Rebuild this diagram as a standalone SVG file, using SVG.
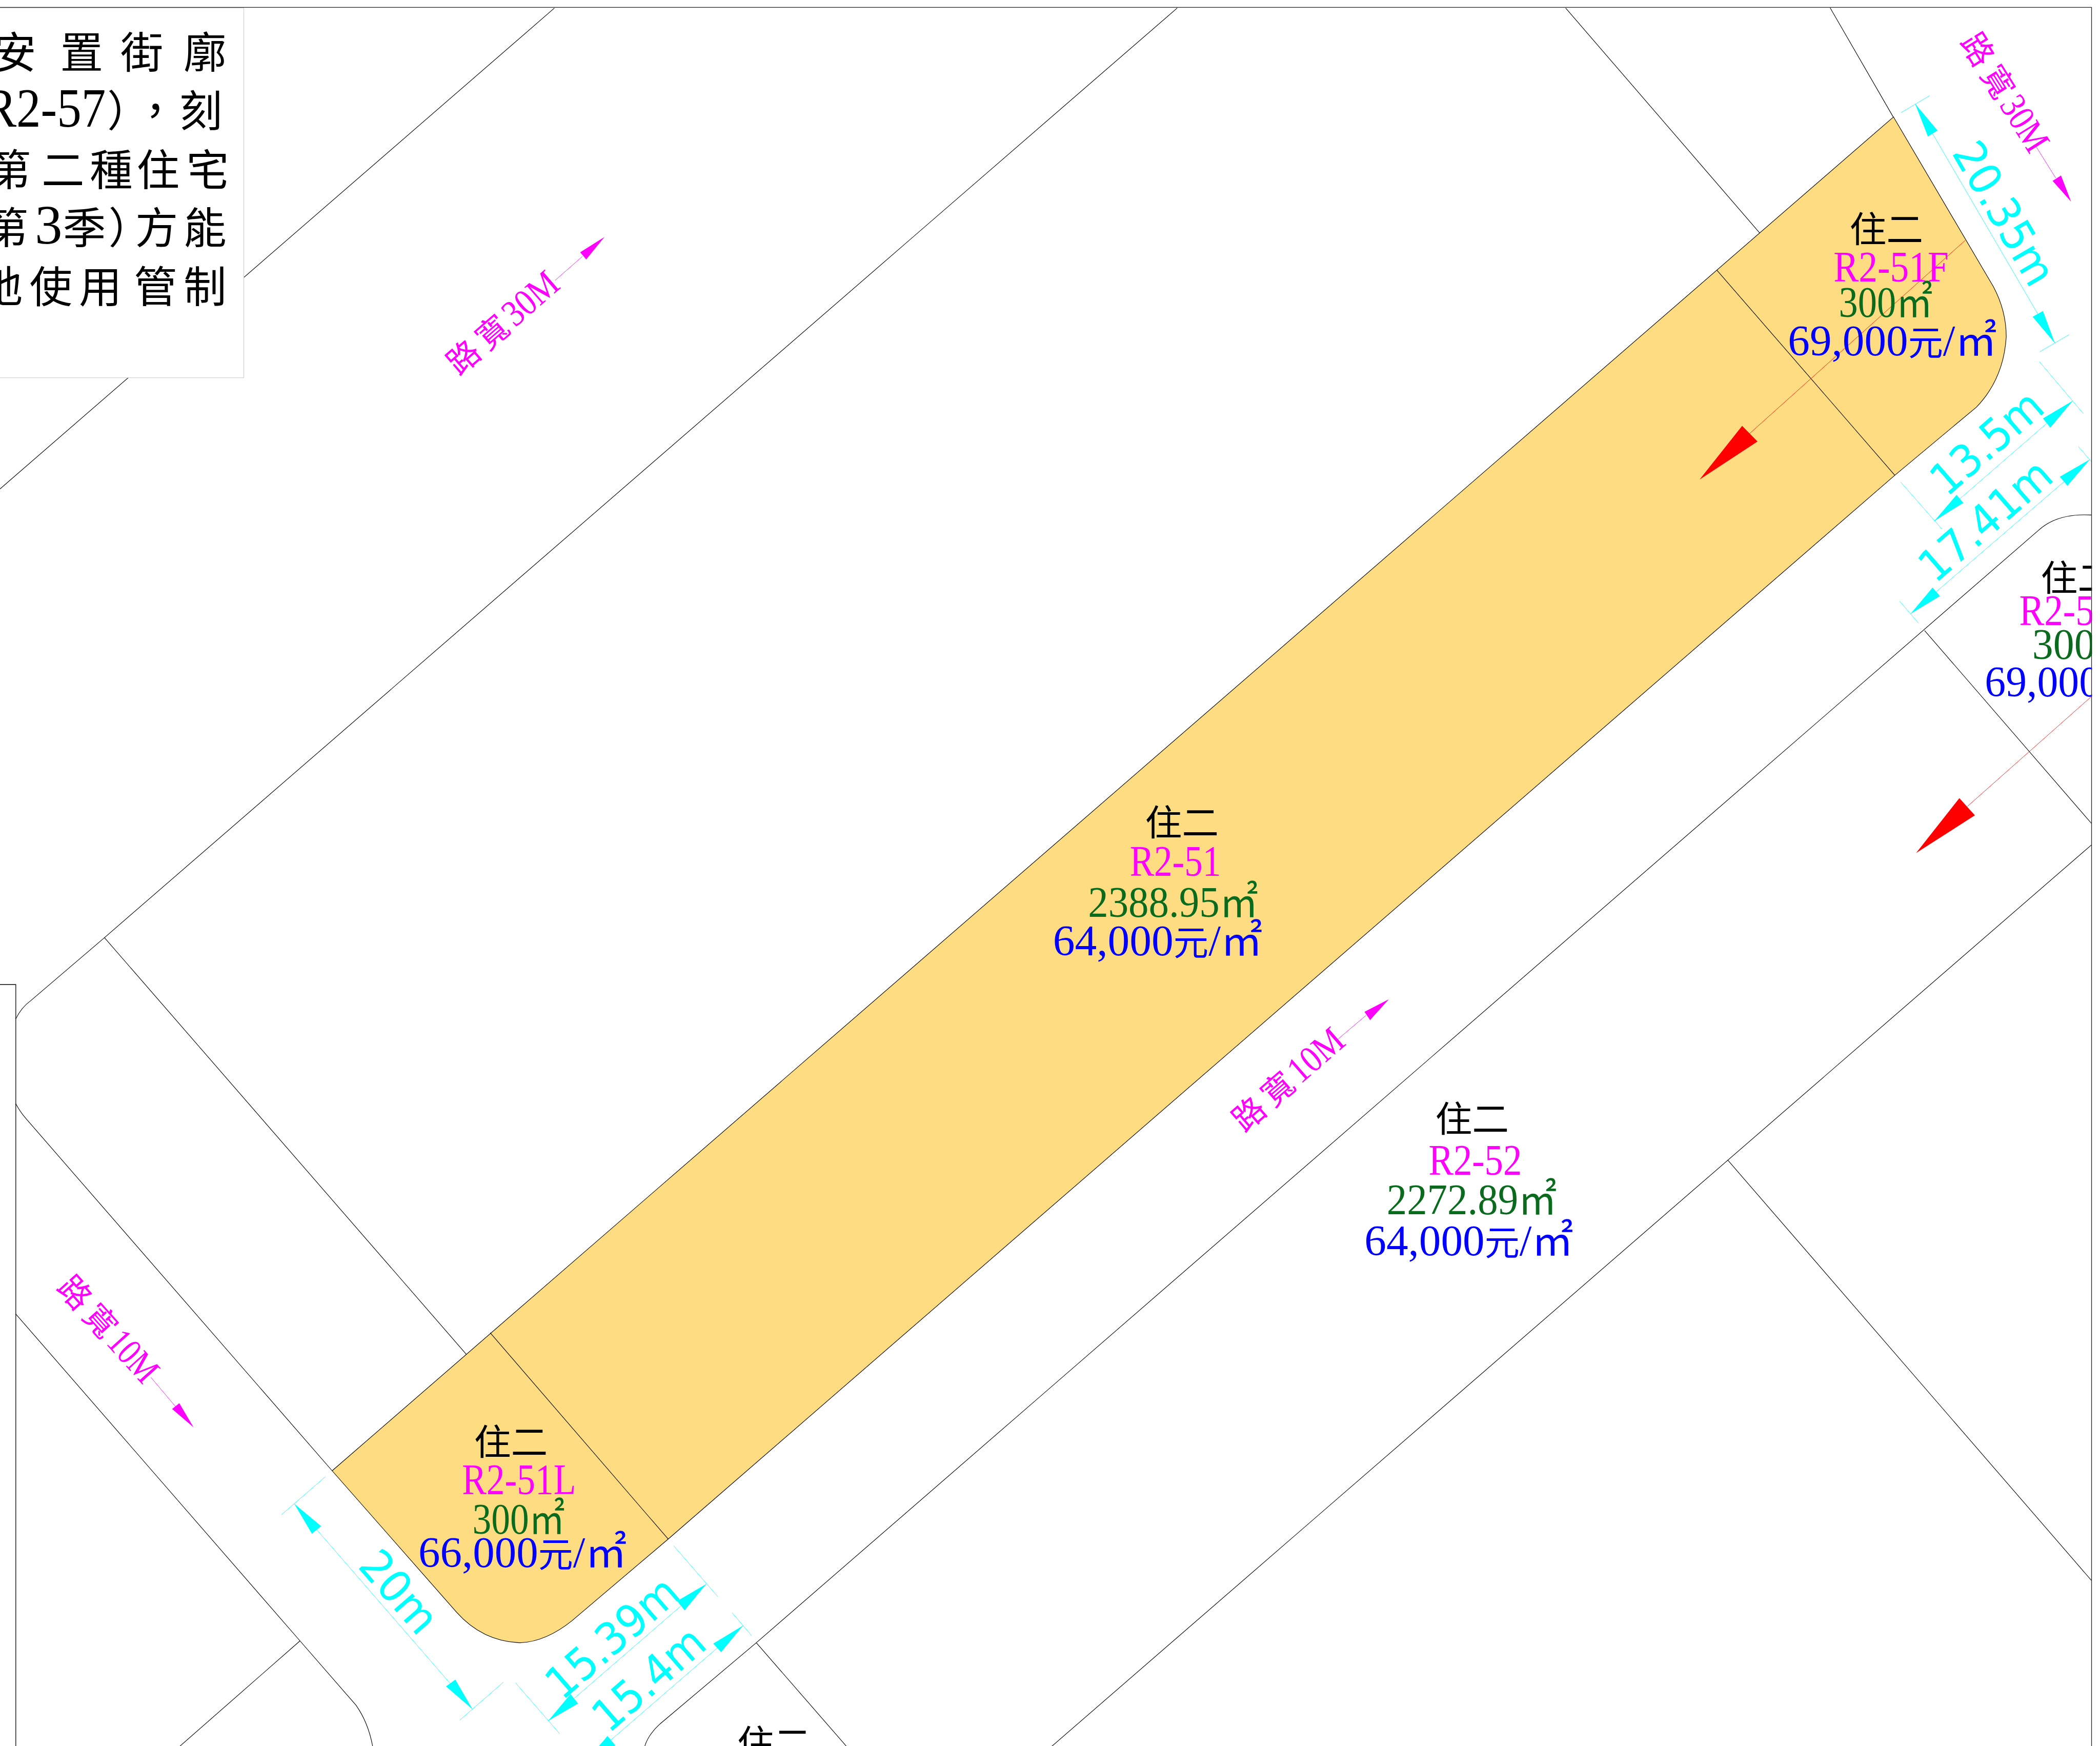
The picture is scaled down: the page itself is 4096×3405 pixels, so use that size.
<svg xmlns="http://www.w3.org/2000/svg" width="4096" height="3405" viewBox="0 0 4096 3405">
<style>
.ln{fill:none;stroke:#000;stroke-width:.42}
.yl{fill:#FEDC82;stroke:#000;stroke-width:.42;stroke-linejoin:round}
.cy{fill:none;stroke:#0ff;stroke-width:.32}
.cyf{fill:#0ff}
.cyt{fill:#0ff;font-family:"DejaVu Sans",sans-serif;font-size:33px;text-anchor:middle}
.rd{fill:none;stroke:#f00;stroke-width:.32}
.rdf{fill:#f00}
.mg{fill:none;stroke:#f0f;stroke-width:.32}
.mgf{fill:#f0f}
.rt{fill:#f0f;font-family:"Liberation Serif","Noto Sans CJK TC",serif;font-size:28px}
.rc{font-family:"Noto Sans CJK TC","Liberation Serif",serif;font-size:24px}
.t{font-family:"Liberation Serif","Noto Sans CJK TC",serif;font-size:32.5px}
.c{font-family:"Noto Sans CJK TC","Liberation Serif",serif;font-size:26px}
.q{font-family:"Noto Sans CJK TC","Liberation Serif",serif;font-size:31px}
.m{fill:#f0f}.g{fill:#0a6b1e}.b{fill:#00f}
.cj{font-family:"Noto Sans CJK TC","Liberation Serif",serif;font-size:27px;fill:#000}
.lg{font-family:"Noto Sans CJK TC","Liberation Serif",serif;font-size:32px;fill:#000}
.lgd{font-family:"Liberation Serif","Noto Sans CJK TC",serif;font-size:41px}
</style>
<rect width="4096" height="3405" fill="#fff"/>
<g transform="scale(2.612245)">
<g id="connectors">
<path class="ln" d="M414,6L0,365"/>
<path class="ln" d="M879,6L78,700L23,747Q16,752 11.8,760.6"/>
<path class="ln" d="M78,700L349,1012"/>
<path class="ln" d="M1169,6L1314,174"/>
<path class="ln" d="M1366.5,5.8L1414,88"/>
<path class="ln" d="M11.8,824Q15,830 19.3,835L248,1098"/>
<path class="ln" d="M11.8,981L224,1225L265.8,1273Q275,1286 278.3,1304"/>
<path class="ln" d="M224,1225L133.9,1304"/>
<path class="ln" d="M1561.7,384.5Q1536,383 1522,396L564.7,1226.4L492.8,1287Q484,1295 481.3,1304"/>
<path class="ln" d="M564.7,1226.4L634,1306"/>
<path class="ln" d="M1437,470.7L1561.7,614.8"/>
<path class="ln" d="M1561.7,630.7L785,1304"/>
<path class="ln" d="M1290,866L1561.7,1180"/>
</g>
<g id="parcel-r2-51">
<path class="yl" d="M1413.8,87.3L1488.4,214Q1498,232 1498,251.5Q1496,283 1475.7,304L1414.8,354.8L498.9,1149L427,1210Q407,1226 387.5,1226.4Q360,1225 341,1203.7L248,1098Z"/>
<path class="ln" d="M1282,201.8L1414.8,354.8"/>
<path class="ln" d="M366,995L498.9,1149"/>
</g>
<g id="setback-arrows">
<path class="rd" d="M1467.4,179.4L1306,324"/>
<path class="rdf" d="M1269,358L1300.8,317.9L1312.3,329.6Z"/>
<path class="rd" d="M1561.7,519.9L1469,602"/>
<path class="rdf" d="M1430.7,636.8L1463,595.8L1474.6,608.7Z"/>
</g>
<g id="label-r2-51f">
<text class="cj" x="1381" y="181" textLength="55" lengthAdjust="spacingAndGlyphs">住二</text>
<text class="t m" x="1369" y="210" textLength="86" lengthAdjust="spacingAndGlyphs">R2-51F</text>
<text class="t g" x="1373" y="236.5" textLength="70" lengthAdjust="spacingAndGlyphs">300<tspan class="q">㎡</tspan></text>
<text class="t b" x="1335" y="265.4" textLength="156" lengthAdjust="spacingAndGlyphs">69,000<tspan class="c">元</tspan>/<tspan class="q">㎡</tspan></text>
</g>
<g id="label-r2-51">
<text class="cj" x="855" y="624" textLength="55" lengthAdjust="spacingAndGlyphs">住二</text>
<text class="t m" x="843.6" y="653.7" textLength="68" lengthAdjust="spacingAndGlyphs">R2-51</text>
<text class="t g" x="812.4" y="684.4" textLength="127" lengthAdjust="spacingAndGlyphs">2388.95<tspan class="q">㎡</tspan></text>
<text class="t b" x="786.2" y="713" textLength="156.5" lengthAdjust="spacingAndGlyphs">64,000<tspan class="c">元</tspan>/<tspan class="q">㎡</tspan></text>
</g>
<g id="label-r2-51l">
<text class="cj" x="354" y="1086.5" textLength="55" lengthAdjust="spacingAndGlyphs">住二</text>
<text class="t m" x="345" y="1115.6" textLength="85" lengthAdjust="spacingAndGlyphs">R2-51L</text>
<text class="t g" x="352.8" y="1145" textLength="69" lengthAdjust="spacingAndGlyphs">300<tspan class="q">㎡</tspan></text>
<text class="t b" x="312.4" y="1169.8" textLength="155.6" lengthAdjust="spacingAndGlyphs">66,000<tspan class="c">元</tspan>/<tspan class="q">㎡</tspan></text>
</g>
<g id="label-r2-52">
<text class="cj" x="1071.7" y="845.2" textLength="55" lengthAdjust="spacingAndGlyphs">住二</text>
<text class="t m" x="1066.7" y="877" textLength="69.6" lengthAdjust="spacingAndGlyphs">R2-52</text>
<text class="t g" x="1035.4" y="906.5" textLength="127" lengthAdjust="spacingAndGlyphs">2272.89<tspan class="q">㎡</tspan></text>
<text class="t b" x="1018.8" y="937.2" textLength="156" lengthAdjust="spacingAndGlyphs">64,000<tspan class="c">元</tspan>/<tspan class="q">㎡</tspan></text>
</g>
<g id="label-cut-right">
<text class="cj" x="1523.8" y="441.5" textLength="55" lengthAdjust="spacingAndGlyphs">住二</text>
<text class="t m" x="1507.7" y="466.5" textLength="56" lengthAdjust="spacingAndGlyphs">R2-5</text>
<text class="t g" x="1517.4" y="492" textLength="47" lengthAdjust="spacingAndGlyphs">300</text>
<text class="t b" x="1482" y="520" textLength="86" lengthAdjust="spacingAndGlyphs">69,000</text>
</g>
<g id="label-bottom">
<text class="cj" x="550.5" y="1311" textLength="55" lengthAdjust="spacingAndGlyphs">住二</text>
</g>
<g id="road-labels">
<g transform="translate(346.2 266.8) rotate(-41)">
<text class="rt" y="8.5"><tspan class="rc" x="-12">路</tspan><tspan class="rc" x="16.5">寬</tspan><tspan x="43.5" textLength="46" lengthAdjust="spacingAndGlyphs">30M</tspan></text>
</g>
<path class="mg" d="M414.4,209.4L435,191.3"/>
<path class="mgf" d="M451.3,177L433.2,188.3L437.7,193.7Z"/>
<g transform="translate(1476.6 37) rotate(58)">
<text class="rt" y="8.5"><tspan class="rc" x="-12">路</tspan><tspan class="rc" x="16.5">寬</tspan><tspan x="43.5" textLength="44" lengthAdjust="spacingAndGlyphs">30M</tspan></text>
</g>
<path class="mg" d="M1520,109L1535,133"/>
<path class="mgf" d="M1546.4,150.5L1532.6,135L1538.9,131Z"/>
<g transform="translate(55.9 965) rotate(48)">
<text class="rt" y="8.5"><tspan class="rc" x="-12">路</tspan><tspan class="rc" x="16.5">寬</tspan><tspan x="43.5" textLength="42" lengthAdjust="spacingAndGlyphs">10M</tspan></text>
</g>
<path class="mg" d="M112.7,1028.3L131,1050"/>
<path class="mgf" d="M144.5,1065.6L128.5,1051.9L133.9,1047.6Z"/>
<g transform="translate(932.7 831.8) rotate(-41)">
<text class="rt" y="8.5"><tspan class="rc" x="-12">路</tspan><tspan class="rc" x="16.5">寬</tspan><tspan x="43.5" textLength="46" lengthAdjust="spacingAndGlyphs">10M</tspan></text>
</g>
<path class="mg" d="M998.5,776.2L1020,758"/>
<path class="mgf" d="M1037,746L1018.8,755.4L1023,761.5Z"/>
</g>
<g id="dim-20-35">
<path class="cy" d="M1419.4,84.1L1441,71.3M1523,262.6L1545,249.8M1430,77.5L1534.3,256.2"/>
<path class="cyf" d="M1430,77.5L1439.5,101.9L1446.7,97.4ZM1534.3,256.2L1517.7,236.5L1525.4,232.2Z"/>
<text class="cyt" transform="rotate(59.8 1497 159)" x="1497" y="171" textLength="118" lengthAdjust="spacingAndGlyphs">20.35m</text>
</g>
<g id="dim-13-5">
<path class="cy" d="M1522.7,270L1555.6,308.8M1419.2,359.9L1450,395M1547.7,299.2L1444.2,389"/>
<path class="cyf" d="M1547.7,299.2L1525.4,312.4L1530.9,319.3ZM1444.2,389L1460.9,369.4L1466,375.4Z"/>
<text class="cyt" transform="rotate(-41 1483 330)" x="1483" y="342" textLength="99" lengthAdjust="spacingAndGlyphs">13.5m</text>
</g>
<g id="dim-17-41">
<path class="cy" d="M1551.9,333.4L1561.5,344.6M1418.3,448.7L1432.6,465.3M1560.4,343L1426.5,458.3"/>
<path class="cyf" d="M1560.4,343L1538,355.9L1543.7,362.6ZM1426.5,458.3L1443,438.6L1448.5,445Z"/>
<text class="cyt" transform="rotate(-41 1482 388)" x="1482" y="400" textLength="119" lengthAdjust="spacingAndGlyphs">17.41m</text>
</g>
<g id="dim-20">
<path class="cy" d="M210.2,1130.8L243,1102.4M343.3,1284.2L375.9,1255.8M219.7,1122.6L352.8,1276"/>
<path class="cyf" d="M219.7,1122.6L232.9,1145L239.8,1139.3ZM352.8,1276L333,1259L340,1253.9Z"/>
<text class="cyt" transform="rotate(49 298.5 1188)" x="298.5" y="1200" textLength="70" lengthAdjust="spacingAndGlyphs">20m</text>
</g>
<g id="dim-15-39">
<path class="cy" d="M503,1154L536,1192M384.9,1256.3L417.8,1294.2M527.4,1182.5L409.3,1284.7"/>
<path class="cyf" d="M527.4,1182.5L505.6,1195.2L511.2,1202.2ZM409.3,1284.7L426,1264.7L431.6,1271.8Z"/>
<text class="cyt" transform="rotate(-41 456.7 1222)" x="456.7" y="1234" textLength="119" lengthAdjust="spacingAndGlyphs">15.39m</text>
</g>
<g id="dim-15-4">
<path class="cy" d="M546.7,1204L561.3,1221.2M428.7,1306L443,1322M554.9,1213.5L436.8,1315.7"/>
<path class="cyf" d="M554.9,1213.5L532.6,1227L538.4,1233.4ZM436.8,1315.7L453.6,1296L459.5,1303Z"/>
<text class="cyt" transform="rotate(-41 484 1253)" x="484" y="1265" textLength="99" lengthAdjust="spacingAndGlyphs">15.4m</text>
</g>
<g id="margins">
<rect x="1562" y="0" width="8" height="1310" fill="#fff"/>
<path d="M0,5.5H1561.7V1304" fill="none" stroke="#222" stroke-width=".5"/>
<path d="M0,735H11.8V1304" fill="none" stroke="#000" stroke-width=".5"/>
</g>
<g id="legend">
<rect x="-2" y="6" width="184" height="276" fill="#fff" stroke="#ccc" stroke-width=".4"/>
<text class="lg" y="51" x="-5 45 90 137">安置街廓</text>
<text class="lg" y="94.5"><tspan class="lgd" x="-12" textLength="91" lengthAdjust="spacingAndGlyphs">R2-57</tspan><tspan x="80 100 134">），刻</tspan></text>
<text class="lg" y="138.5" x="-9 31 67 102 139">第二種住宅</text>
<text class="lg" y="182"><tspan x="-11">第</tspan><tspan class="lgd" x="26">3</tspan><tspan x="47 81 101 137">季）方能</tspan></text>
<text class="lg" y="226" x="-15 22 59 100 137">地使用管制</text>
</g>
</g>
</svg>
